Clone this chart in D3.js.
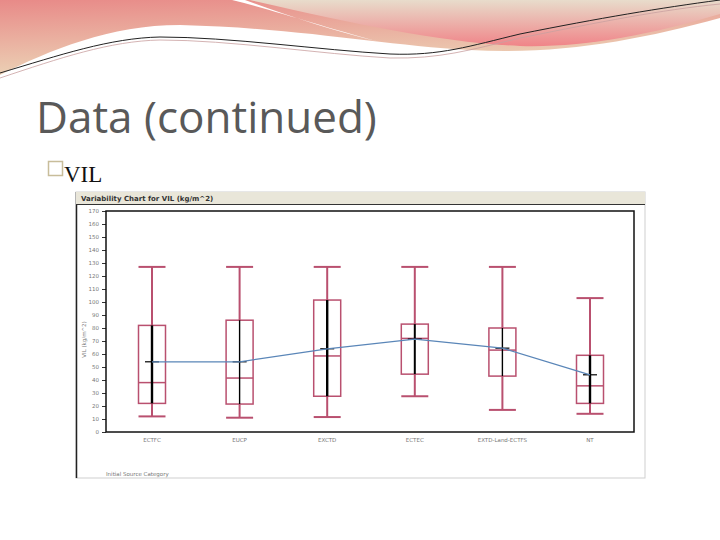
<!DOCTYPE html>
<html>
<head>
<meta charset="utf-8">
<script src="https://cdn.jsdelivr.net/npm/d3@7"></script>
<style>
  body { margin: 0; background: #fff; }
  svg { display: block; }
</style>
</head>
<body>
<svg id="slide" width="720" height="540"></svg>
<script>
// box plot data (VIL kg/m^2)
const categories = ["ECTFC", "EUCP", "EXCTD", "ECTEC", "EXTD-Land-ECTFS", "NT"]
const whiskerHigh = [127, 127, 127, 127, 127, 103]
const q3 = [82, 86, 101.5, 83, 80, 59]
const medians = [38, 41.5, 58.5, 72, 63, 35.5]
const q1 = [22, 21.5, 27.5, 44.5, 43, 22]
const whiskerLow = [12, 11, 11.5, 27.5, 17, 14]
const means = [54, 54, 64, 71.5, 64.5, 44]
const barWidths = [2.4, 1.4, 2.4, 2, 1.4, 2.4]
const yTicks = d3.range(0, 171, 10)

const svg = d3.select("#slide")

// ---- slide header waves
const defs = svg.append("defs")
const g1 = defs.append("linearGradient").attr("id", "pinkL").attr("x1", 0).attr("y1", 0).attr("x2", 0.3).attr("y2", 1)
g1.append("stop").attr("offset", "0%").attr("stop-color", "#e88a88")
g1.append("stop").attr("offset", "100%").attr("stop-color", "#ecd6b8")
const g2 = defs.append("linearGradient").attr("id", "pinkR").attr("x1", 0).attr("y1", 0).attr("x2", 0).attr("y2", 1)
g2.append("stop").attr("offset", "0%").attr("stop-color", "#e8dccb")
g2.append("stop").attr("offset", "100%").attr("stop-color", "#f08488")

svg.append("path")
  .attr("d", "M0,0 L720,0 L720,18 C640,40 560,55 470,50 C380,45 300,28 180,25 C110,25 50,50 0,75 Z")
  .attr("fill", "url(#pinkL)")
svg.append("path")
  .attr("d", "M250,0 L720,0 L720,14 C650,35 580,48 520,46 C440,42 360,25 250,0 Z")
  .attr("fill", "url(#pinkR)")
svg.append("path")
  .attr("d", "M232,0 C280,12 320,26 380,42 C330,30 290,16 245,0 Z")
  .attr("fill", "#fff")
svg.append("path")
  .attr("d", "M0,73 C60,55 110,38 160,37 C230,37 320,50 390,54 C440,56 470,46 520,34 C600,18 660,8 720,0")
  .attr("fill", "none").attr("stroke", "#222").attr("stroke-width", 1)
svg.append("path")
  .attr("d", "M0,78 C60,58 110,41 160,40 C230,40 320,54 390,58 C440,59 470,50 520,38 C600,22 660,10 720,4")
  .attr("fill", "none").attr("stroke", "#c9a0a0").attr("stroke-width", 0.8)

// ---- title and bullet
svg.append("text")
  .attr("x", 36).attr("y", 133)
  .attr("font-family", "Open Sans, sans-serif")
  .attr("font-size", 44)
  .attr("fill", "#595959")
  .text("Data (continued)")

svg.append("rect")
  .attr("x", 48.5).attr("y", 161.5).attr("width", 14).attr("height", 14)
  .attr("fill", "none").attr("stroke", "#c8bd9a").attr("stroke-width", 1.5)
svg.append("text")
  .attr("x", 64).attr("y", 182)
  .attr("font-family", "Liberation Serif, serif")
  .attr("font-size", 23)
  .attr("fill", "#111")
  .text("VIL")

// ---- chart panel
const panel = {x: 76, y: 192, w: 569, h: 286}
svg.append("rect")
  .attr("x", panel.x).attr("y", panel.y).attr("width", panel.w).attr("height", panel.h)
  .attr("fill", "#fff").attr("stroke", "#cfcfcf")
svg.append("line")
  .attr("x1", panel.x + 0.5).attr("x2", panel.x + 0.5).attr("y1", panel.y).attr("y2", panel.y + panel.h)
  .attr("stroke", "#222").attr("stroke-width", 1.5)
svg.append("rect")
  .attr("x", panel.x).attr("y", panel.y).attr("width", panel.w).attr("height", 12)
  .attr("fill", "#e9e6d9")
svg.append("line")
  .attr("x1", panel.x).attr("x2", panel.x + panel.w).attr("y1", panel.y + 12.5).attr("y2", panel.y + 12.5)
  .attr("stroke", "#333")
svg.append("text")
  .attr("x", panel.x + 5).attr("y", panel.y + 9)
  .attr("font-family", "DejaVu Sans, sans-serif")
  .attr("font-size", 7).attr("font-weight", "bold").attr("fill", "#333")
  .text("Variability Chart for VIL (kg/m^2)")

const plot = {left: 106, right: 634, top: 211, bottom: 432}

const x = d3.scalePoint()
  .domain(categories)
  .range([152, 590])

const y = d3.scaleLinear()
  .domain([0, 170])
  .range([plot.bottom, plot.top])

const yAxis = svg.append("g")
  .attr("transform", `translate(${plot.left},0)`)
  .call(d3.axisLeft(y).tickValues(yTicks).tickSize(4).tickPadding(3))
yAxis.select(".domain").remove()
yAxis.selectAll("text")
  .attr("font-family", "DejaVu Sans, sans-serif").attr("font-size", 5.5).attr("fill", "#777")
yAxis.selectAll("line").attr("stroke", "#333")

svg.append("rect")
  .attr("x", plot.left).attr("y", plot.top)
  .attr("width", plot.right - plot.left).attr("height", plot.bottom - plot.top)
  .attr("fill", "none").attr("stroke", "#111").attr("stroke-width", 1.5)

svg.append("text")
  .attr("transform", `translate(86,${(plot.top + plot.bottom) / 2 + 18}) rotate(-90)`)
  .attr("text-anchor", "middle")
  .attr("font-family", "DejaVu Sans, sans-serif").attr("font-size", 5.5).attr("fill", "#777")
  .text("VIL (kg/m^2)")

// category labels
svg.append("g").selectAll("text")
  .data(categories)
  .join("text")
  .attr("x", d => x(d)).attr("y", 442)
  .attr("text-anchor", "middle")
  .attr("font-family", "DejaVu Sans, sans-serif").attr("font-size", 5.5).attr("fill", "#777")
  .text(d => d)

svg.append("text")
  .attr("x", 106).attr("y", 476)
  .attr("font-family", "DejaVu Sans, sans-serif").attr("font-size", 5.5).attr("fill", "#777")
  .text("Initial Source Category")

// boxes
const boxColor = "#b9506f"
const boxW = 27
const rows = categories.map((c, i) => ({
  c, hi: whiskerHigh[i], q3: q3[i], med: medians[i], q1: q1[i], lo: whiskerLow[i], mean: means[i], bw: barWidths[i]
}))

const boxes = svg.append("g").selectAll("g")
  .data(rows)
  .join("g")
  .attr("transform", d => `translate(${x(d.c)},0)`)

boxes.append("line")
  .attr("y1", d => y(d.hi)).attr("y2", d => y(d.q3))
  .attr("stroke", boxColor).attr("stroke-width", 2)
boxes.append("line")
  .attr("y1", d => y(d.q1)).attr("y2", d => y(d.lo))
  .attr("stroke", boxColor).attr("stroke-width", 2)
boxes.append("line")
  .attr("x1", -boxW / 2).attr("x2", boxW / 2)
  .attr("y1", d => y(d.hi)).attr("y2", d => y(d.hi))
  .attr("stroke", boxColor).attr("stroke-width", 2)
boxes.append("line")
  .attr("x1", -boxW / 2).attr("x2", boxW / 2)
  .attr("y1", d => y(d.lo)).attr("y2", d => y(d.lo))
  .attr("stroke", boxColor).attr("stroke-width", 2)
boxes.append("rect")
  .attr("x", -boxW / 2).attr("width", boxW)
  .attr("y", d => y(d.q3)).attr("height", d => y(d.q1) - y(d.q3))
  .attr("fill", "none").attr("stroke", boxColor).attr("stroke-width", 1.5)
boxes.append("line")
  .attr("x1", -boxW / 2).attr("x2", boxW / 2)
  .attr("y1", d => y(d.med)).attr("y2", d => y(d.med))
  .attr("stroke", boxColor).attr("stroke-width", 1.5)
// black range bar inside the box
boxes.append("line")
  .attr("y1", d => y(d.q3)).attr("y2", d => y(d.q1))
  .attr("stroke", "#000").attr("stroke-width", d => d.bw)

// mean line
svg.append("path")
  .datum(rows)
  .attr("d", d3.line().x(d => x(d.c)).y(d => y(d.mean)))
  .attr("fill", "none").attr("stroke", "#5a86b8").attr("stroke-width", 1.3)

boxes.append("line")
  .attr("x1", -7).attr("x2", 7)
  .attr("y1", d => y(d.mean)).attr("y2", d => y(d.mean))
  .attr("stroke", "#000").attr("stroke-width", 1.2)
</script>
</body>
</html>
